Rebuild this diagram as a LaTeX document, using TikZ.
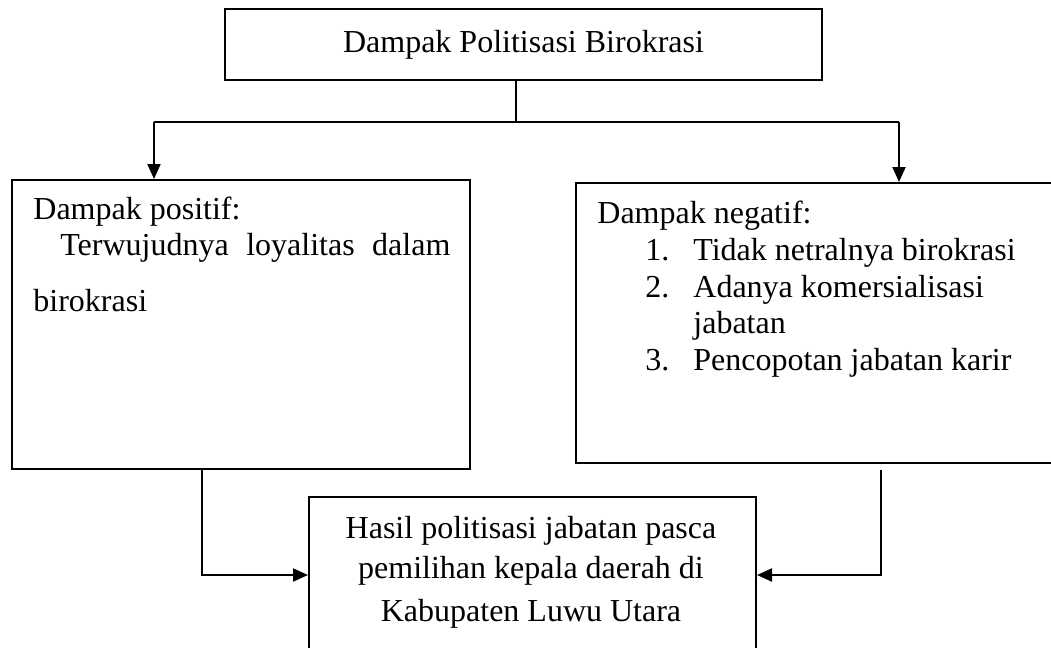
\documentclass[tikz,border=0pt]{standalone}
\usepackage{fontspec}
\setmainfont{Liberation Serif}
\usetikzlibrary{arrows.meta}
\tikzset{
  plain box/.style 2 args={
    draw,
    line width=1pt,
    minimum width={#1pt},
    minimum height={#2pt},
    inner sep=0pt,
  },
  line text/.style={
    anchor=base west,
    inner sep=0pt,
  },
  center text/.style={
    anchor=base,
    inner sep=0pt,
  },
  flow/.style={
    line width=1pt,
    -{Triangle[length=7.5pt,width=6.5pt]},
  }
}

\begin{document}
\begin{tikzpicture}[x=0.5pt, y=-0.5pt, font=\fontsize{16}{19}\selectfont]
        \useasboundingbox (0,0) rectangle (1051,648);

        \node [plain box={298.5}{35.5}] (top) at (523.5,44.5) {Dampak Politisasi Birokrasi};
        \node [plain box={229}{144.5}] (positif) at (241,324.5) {};
        \node [plain box={240}{140}] (negatif) at (816,323) {};
        \node [plain box={223.5}{78}] (hasil) at (532.5,575) {};

        \node [line text] (pos title) at (33,219) {Dampak positif:};
        \node [line text] (pos line1) at (60,255) {\makebox[195pt][s]{Terwujudnya loyalitas dalam}};
        \node [line text] (pos line2) at (33,311) {birokrasi};

        \node [line text] (neg title) at (597,223) {Dampak negatif:};
        \foreach \num/\y in {1/260, 2/297, 3/370}
          \node [line text] (neg nr\num) at (645,\y) {\num.};
        \node [line text] (neg item1) at (693,260) {Tidak netralnya birokrasi};
        \node [line text] (neg item2) at (693,297) {Adanya komersialisasi};
        \node [line text] (neg item2b) at (693,333) {jabatan};
        \node [line text] (neg item3) at (693,370) {Pencopotan jabatan karir};

        \node [center text] (hasil line1) at (531,538) {Hasil politisasi jabatan pasca};
        \node [center text] (hasil line2) at (531,578) {pemilihan kepala daerah di};
        \node [center text] (hasil line3) at (531,621) {Kabupaten Luwu Utara};

        \coordinate (fork) at (516,122);
        \coordinate (left fork) at (154,122);
        \coordinate (right fork) at (899,122);
        \draw [line width=1pt] (top.south -| fork) -- (fork);
        \draw [line width=1pt] (left fork) -- (right fork);
        \draw [flow] (left fork) -- (left fork |- positif.north);
        \draw [flow] (right fork) -- (right fork |- negatif.north);

        \coordinate (left bend) at (202,575);
        \coordinate (right start) at (881,470);
        \coordinate (right bend) at (881,575);
        \draw [flow] (left bend |- positif.south) -- (left bend) -- (hasil.west);
        \draw [flow] (right start) -- (right bend) -- (hasil.east);
      \end{tikzpicture}
\end{document}
